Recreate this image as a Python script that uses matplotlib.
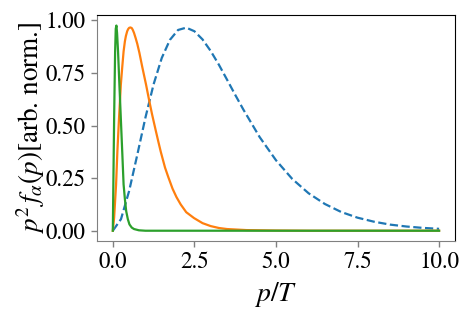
import matplotlib
matplotlib.use("Agg")
import matplotlib.pyplot as plt

# Data
x_blue = [0, 0.25, 0.5, 0.75, 1.0, 1.25, 1.5, 1.75, 2.0, 2.25, 2.5, 2.75, 3.0, 3.25, 3.5,
          3.75, 4.0, 4.5, 5.0, 5.5, 6.0, 6.5, 7.0, 7.5, 8.0, 8.5, 9.0, 9.5, 10.0]
y_blue = [0, 0.055, 0.189, 0.361, 0.538, 0.696, 0.821, 0.907, 0.954, 0.965, 0.948,
          0.909, 0.854, 0.789, 0.718, 0.646, 0.576, 0.445, 0.335, 0.246, 0.178, 0.127,
          0.089, 0.062, 0.043, 0.029, 0.020, 0.0135, 0.009]

x_orange = [0, 0.04, 0.10, 0.14, 0.19, 0.245, 0.29, 0.33, 0.37, 0.40, 0.44, 0.47, 0.50,
            0.54, 0.58, 0.61, 0.65, 0.70, 0.75, 0.815, 0.90, 1.02, 1.10, 1.2, 1.31, 1.4,
            1.47, 1.6, 1.7, 1.83, 1.95, 2.08, 2.25, 2.49, 2.75, 3.0, 3.25, 3.5, 4.1,
            5.0, 6.0, 8.0, 10.0]
y_orange = [0, 0.062, 0.22, 0.378, 0.535, 0.693, 0.78, 0.852, 0.90, 0.925, 0.948, 0.958,
            0.964, 0.966, 0.963, 0.955, 0.94, 0.915, 0.888, 0.845, 0.78, 0.693, 0.63,
            0.555, 0.48, 0.42, 0.375, 0.30, 0.255, 0.20, 0.16, 0.125, 0.088, 0.060,
            0.036, 0.022, 0.013, 0.008, 0.003, 0.001, 0, 0, 0]

x_green = [0, 0.02, 0.04, 0.07, 0.09, 0.11, 0.13, 0.16, 0.20, 0.245, 0.29, 0.33, 0.37,
           0.41, 0.46, 0.51, 0.58, 0.65, 0.8, 1.0, 2.0, 4.0, 6.0, 8.0, 10.0]
y_green = [0, 0.27, 0.535, 0.85, 0.96, 0.975, 0.94, 0.852, 0.70, 0.535, 0.37, 0.22,
           0.15, 0.093, 0.055, 0.03, 0.015, 0.008, 0.002, 0, 0, 0, 0, 0, 0]

x_ticks = [0.0, 2.5, 5.0, 7.5, 10.0]
y_ticks = [0.00, 0.25, 0.50, 0.75, 1.00]

plt.rcParams['font.family'] = ['STIXGeneral', 'DejaVu Serif']
plt.rcParams['mathtext.fontset'] = 'stix'

fig = plt.figure(figsize=(4.71, 3.14), dpi=100)
ax = fig.add_axes([0.2049, 0.2325, 0.762, 0.7195])

ax.plot(x_blue, y_blue, color='#1f77b4', lw=1.6, ls='--')
ax.plot(x_orange, y_orange, color='#ff7f0e', lw=1.6)
ax.plot(x_green, y_green, color='#2ca02c', lw=1.6)

ax.set_xlim(-0.5, 10.5)
ax.set_ylim(-0.0488, 1.0248)
ax.set_xticks(x_ticks)
ax.set_xticklabels([f"{t:.1f}" for t in x_ticks])
ax.set_yticks(y_ticks)
ax.set_yticklabels([f"{t:.2f}" for t in y_ticks])
ax.tick_params(labelsize=16.5, color='#808080', length=4.5, width=1)
for s in ['left', 'bottom']:
    ax.spines[s].set_color('#808080')
for s in ['top', 'right']:
    ax.spines[s].set_color('black')

ax.set_xlabel(r'$p/T$', fontsize=20, labelpad=5)
ax.set_ylabel(r'$p^2\,f_\alpha(p)$[arb. norm.]', fontsize=19.5, labelpad=-1)

fig.savefig('out.png', dpi=100)
